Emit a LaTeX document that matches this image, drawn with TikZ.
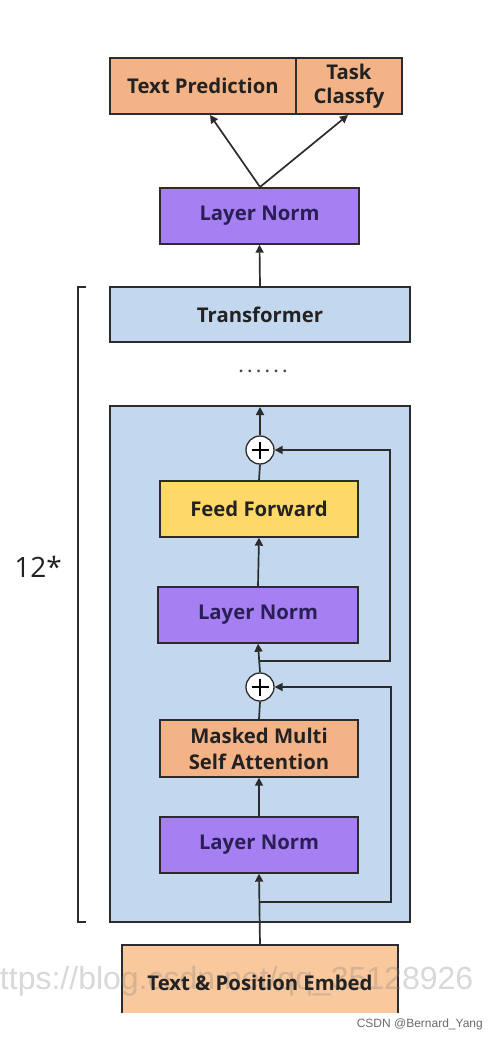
\documentclass[tikz,border=0pt]{standalone}
\usepackage{fontspec}
\setmainfont{Open Sans}
\newfontfamily\wmfont{Liberation Sans}
\usetikzlibrary{arrows.meta}
\definecolor{lnpurple}{HTML}{A67FF2}
\definecolor{lntext}{HTML}{2A1F55}
\definecolor{blockblue}{HTML}{C3D8EE}
\definecolor{orangebox}{HTML}{F3B387}
\definecolor{yellowbox}{HTML}{FFD968}
\definecolor{embbox}{HTML}{F9C89C}
\definecolor{edgecol}{HTML}{2C2C2C}
\definecolor{txtcol}{HTML}{222222}
\begin{document}
\begin{tikzpicture}[x=1pt,y=-1pt,
  box/.style={draw=edgecol, line width=1.4pt, inner sep=0pt, minimum height=56pt,
     font=\fontsize{20.3}{24}\selectfont\bfseries, text=txtcol, align=center},
  lnbox/.style={box, fill=lnpurple, text=lntext},
  plusnode/.style={circle, draw=edgecol, fill=white, line width=1.3pt, minimum size=28pt, inner sep=0pt},
  conn/.style={draw=edgecol, line width=1.7pt},
  arr/.style={conn, -{Triangle[length=8pt,width=8pt]}}]
\useasboundingbox (0,0) rectangle (498,1040);
\fill[white] (0,0) rectangle (498,1040);

% output heads
\node[box, fill=orangebox, minimum width=186pt] (tp) at (203,86) {Text Prediction};
\node[box, fill=orangebox, minimum width=106pt] (tc) at (349,86) {Task\\[0pt]Classfy};
\node[lnbox, minimum width=199pt] (lntop) at (259.5,216) {Layer Norm};
\coordinate (split) at (260,187);
\draw[arr] (split) -- (210,115);
\draw[arr] (split) -- (348,115);

% transformer
\node[box, fill=blockblue, minimum width=300pt, minimum height=55pt] (tr) at (260,314.5) {Transformer};
\draw[arr] (tr.north) -- (lntop.south);
\node[text=gray!60!black, font=\fontsize{16}{16}\selectfont\bfseries, inner sep=0pt] (dots) at (263,371) {.\hspace{4.2pt}.\hspace{4.2pt}.\hspace{4.2pt}.\hspace{4.2pt}.\hspace{4.2pt}.};

% big block
\node[draw=edgecol, line width=1.4pt, fill=blockblue, minimum width=300pt, minimum height=516pt, inner sep=0pt] (blk) at (260,664) {};

% bracket and repeat count
\draw[line width=1.5pt, draw=edgecol] (86,287) -- (78,287) -- (78,922) -- (86,922);
\node[font=\fontsize{28}{28}\selectfont, text=txtcol] (rep) at (38,567) {12*};

% inner layers
\node[plusnode] (p1) at (260,450) {};
\draw[line width=1.4pt] (p1.center) ++(-8.5,0) -- ++(17,0) (p1.center) ++(0,-8.5) -- ++(0,17);
\node[box, fill=yellowbox, minimum width=198pt] (ff) at (259,509) {Feed Forward};
\node[lnbox, minimum width=200pt] (ln2) at (258,615) {Layer Norm};
\node[plusnode] (p2) at (260,687) {};
\draw[line width=1.4pt] (p2.center) ++(-8.5,0) -- ++(17,0) (p2.center) ++(0,-8.5) -- ++(0,17);
\node[box, fill=orangebox, minimum width=198pt, minimum height=57pt] (mm) at (259,748.5) {Masked Multi\\[2pt]Self Attention};
\node[lnbox, minimum width=198pt] (ln1) at (259,845) {Layer Norm};

% embedding (cropped at bottom)
\fill[embbox] (122,945) rectangle (398,1013);
\draw[line width=1.7pt, draw=edgecol] (122,1013) -- (122,945) -- (398,945) -- (398,1013);
\coordinate (embtop) at (260,945);

% connectors
\draw[arr] (p1.north) -- (260,407);
\draw[conn] (ff.north) -- (p1.south);
\draw[arr] (ln2.north) -- (ff.south);
\draw[arr] (p2.north) -- (ln2.south);
\draw[conn] (mm.north) -- (p2.south);
\draw[arr] (ln1.north) -- (mm.south);
\draw[arr] (embtop) -- (ln1.south);
\coordinate (r1) at (260,661);
\coordinate (r2) at (260,902);
\draw[arr] (r1) -- (390,661) |- (p1.east);
\draw[arr] (r2) -- (391,902) |- (p2.east);

% watermarks
\node[anchor=west, font=\wmfont\fontsize{32}{32}\selectfont, text=gray, opacity=0.3, inner sep=0pt] (wm) at (-18,981) {https://blog.csdn.net/qq\_35128926};
\node[font=\fontsize{20.3}{24}\selectfont\bfseries, text=txtcol] (emb) at (260,983) {Text \& Position Embed};
\node[anchor=east, font=\wmfont\fontsize{12}{12}\selectfont, text=gray!85!black, inner sep=0pt] (sig) at (483,1024) {CSDN @Bernard\_Yang};
\end{tikzpicture}
\end{document}
